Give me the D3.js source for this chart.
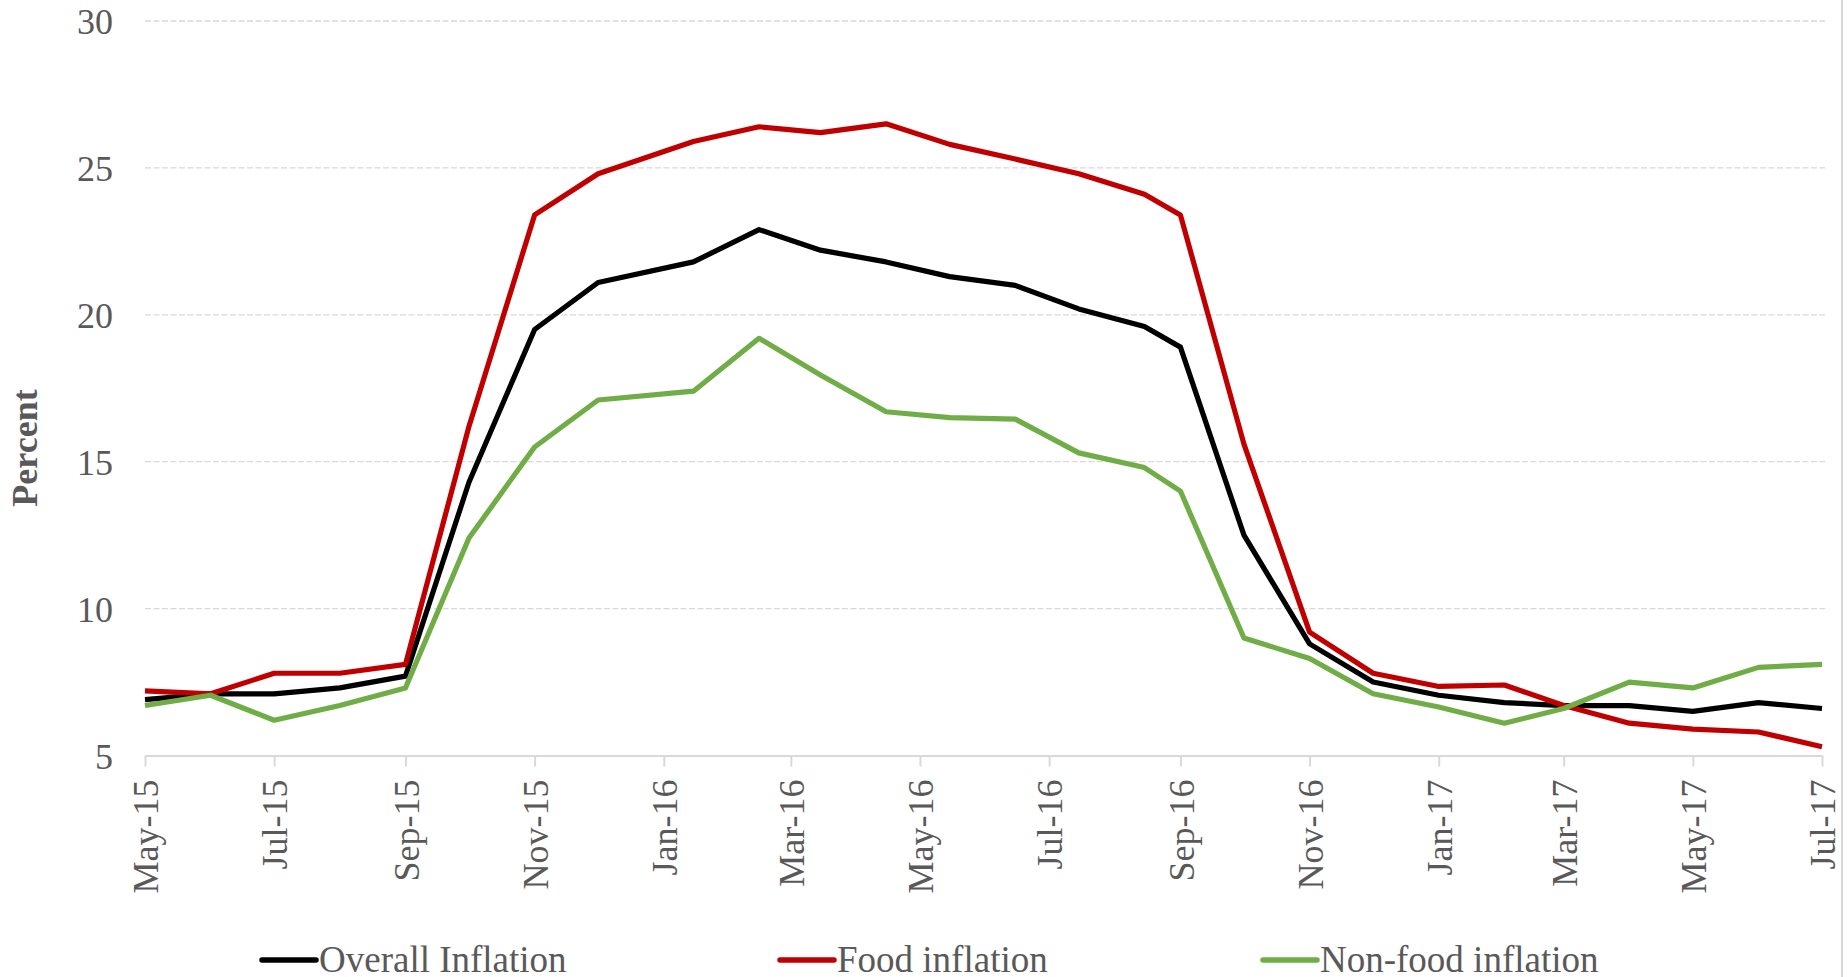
<!DOCTYPE html>
<html lang="en">

<head>
    <meta charset="UTF-8">
    <title>Overall, food and non-food inflation</title>
    <style>
        body {
            margin: 0;
            background: #fff;
        }

        text {
            font-family: "Liberation Serif", "Times New Roman", serif;
            fill: #595959;
        }

        .grid line {
            stroke: #d9d9d9;
            stroke-width: 1.3;
            stroke-dasharray: 6, 2.5;
        }

        .line {
            fill: none;
            stroke-width: 5.2;
            stroke-linejoin: round;
        }
    </style>
</head>

<body>
    <div id="chart"></div>

    <script src="https://d3js.org/d3.v7.min.js"></script>
    <script>
        // Observation dates (Jan-Aug 2016 readings sit mid-month on the date axis)
        const dates = [
            "2015-05-01", "2015-06-01", "2015-07-01", "2015-08-01", "2015-09-01",
            "2015-10-01", "2015-11-01", "2015-12-01", "2016-01-15", "2016-02-15",
            "2016-03-15", "2016-04-15", "2016-05-15", "2016-06-15", "2016-07-15",
            "2016-08-15", "2016-09-01", "2016-10-01", "2016-11-01", "2016-12-01",
            "2017-01-01", "2017-02-01", "2017-03-01", "2017-04-01", "2017-05-01",
            "2017-06-01", "2017-07-01"
        ];

        const overallInflation = [6.9, 7.1, 7.1, 7.3, 7.7, 14.3, 19.5, 21.1, 21.8, 22.9,
            22.2, 21.8, 21.3, 21.0, 20.2, 19.6, 18.9, 12.5, 8.8, 7.5,
            7.05, 6.8, 6.7, 6.7, 6.5, 6.8, 6.6
        ];

        const foodInflation = [7.2, 7.1, 7.8, 7.8, 8.1, 16.2, 23.4, 24.8, 25.9, 26.4,
            26.2, 26.5, 25.8, 25.3, 24.8, 24.1, 23.4, 15.6, 9.2, 7.8,
            7.35, 7.4, 6.7, 6.1, 5.9, 5.8, 5.3
        ];

        const nonFoodInflation = [6.7, 7.05, 6.2, 6.7, 7.3, 12.4, 15.5, 17.1, 17.4, 19.2,
            17.95, 16.7, 16.5, 16.45, 15.3, 14.8, 14.0, 9.0, 8.3, 7.1,
            6.65, 6.1, 6.6, 7.5, 7.3, 8.0, 8.1
        ];

        const xTickLabels = ["May-15", "Jul-15", "Sep-15", "Nov-15", "Jan-16", "Mar-16", "May-16",
            "Jul-16", "Sep-16", "Nov-16", "Jan-17", "Mar-17", "May-17", "Jul-17"
        ];

        const yTicks = [5, 10, 15, 20, 25, 30];

        const seriesNames = ["Overall Inflation", "Food inflation", "Non-food inflation"];
        const seriesColors = ["#000000", "#c00000", "#70ad47"];

        const width = 1848,
            height = 977;
        const margin = {
            top: 21,
            right: 26,
            bottom: 221.5,
            left: 145
        };

        const parseDate = d3.timeParse("%Y-%m-%d");
        const parseTick = d3.timeParse("%b-%y");
        const formatTick = d3.timeFormat("%b-%y");

        const series = [overallInflation, foodInflation, nonFoodInflation].map((values, i) => ({
            name: seriesNames[i],
            color: seriesColors[i],
            points: values.map((v, j) => ({
                date: parseDate(dates[j]),
                value: v
            }))
        }));

        const tickDates = xTickLabels.map(parseTick);

        const x = d3.scaleTime()
            .domain([tickDates[0], tickDates[tickDates.length - 1]])
            .range([margin.left, width - margin.right]);

        const y = d3.scaleLinear()
            .domain([5, 30])
            .range([height - margin.bottom, margin.top]);

        const svg = d3.select("#chart")
            .append("svg")
            .attr("width", width)
            .attr("height", height);

        // right edge border of the chart area
        svg.append("line")
            .attr("x1", 1842).attr("x2", 1842)
            .attr("y1", 0).attr("y2", height)
            .attr("stroke", "#d9d9d9")
            .attr("stroke-width", 2);

        // horizontal dashed gridlines
        svg.append("g")
            .attr("class", "grid")
            .selectAll("line")
            .data(yTicks.filter(d => d > 5))
            .enter().append("line")
            .attr("x1", margin.left)
            .attr("x2", width - margin.right + 3)
            .attr("y1", d => y(d))
            .attr("y2", d => y(d));

        // y axis labels
        const yAxis = svg.append("g")
            .attr("transform", `translate(${margin.left - 32},0)`)
            .call(d3.axisLeft(y).tickValues(yTicks).tickSize(0).tickPadding(0));
        yAxis.select(".domain").remove();
        yAxis.selectAll("text")
            .style("font-size", "36px")
            .attr("fill", "#595959")
            .attr("dy", "0.35em");

        // x axis
        const xAxis = svg.append("g")
            .attr("transform", `translate(0,${y(5)})`)
            .call(d3.axisBottom(x).tickValues(tickDates).tickFormat(formatTick).tickSize(11).tickSizeOuter(0));
        xAxis.select(".domain")
            .attr("stroke", "#d9d9d9")
            .attr("stroke-width", 2);
        xAxis.selectAll(".tick line")
            .attr("stroke", "#d9d9d9")
            .attr("stroke-width", 2);
        xAxis.selectAll(".tick text")
            .style("font-size", "36px")
            .attr("fill", "#595959")
            .attr("text-anchor", "end")
            .attr("transform", "rotate(-90)")
            .attr("x", -24)
            .attr("y", 0)
            .attr("dy", "0.35em");

        // axis title
        svg.append("text")
            .attr("transform", "translate(24,448) rotate(-90)")
            .attr("text-anchor", "middle")
            .attr("dy", "0.35em")
            .style("font-size", "36px")
            .style("font-weight", "bold")
            .text("Percent");

        // series lines
        const line = d3.line()
            .x(d => x(d.date))
            .y(d => y(d.value));

        svg.selectAll(".line")
            .data(series)
            .enter().append("path")
            .attr("class", "line")
            .attr("stroke", d => d.color)
            .attr("d", d => line(d.points));

        // legend
        const legendX = [262, 780, 1263];
        const legend = svg.selectAll(".legend")
            .data(series)
            .enter().append("g")
            .attr("class", "legend")
            .attr("transform", (d, i) => `translate(${legendX[i]},960)`);

        legend.append("line")
            .attr("x1", 0).attr("x2", 54)
            .attr("y1", 0).attr("y2", 0)
            .attr("stroke", d => d.color)
            .attr("stroke-width", 5.5)
            .attr("stroke-linecap", "round");

        legend.append("text")
            .attr("x", 57)
            .attr("y", 12)
            .style("font-size", "37px")
            .text(d => d.name);
    </script>
</body>

</html>
